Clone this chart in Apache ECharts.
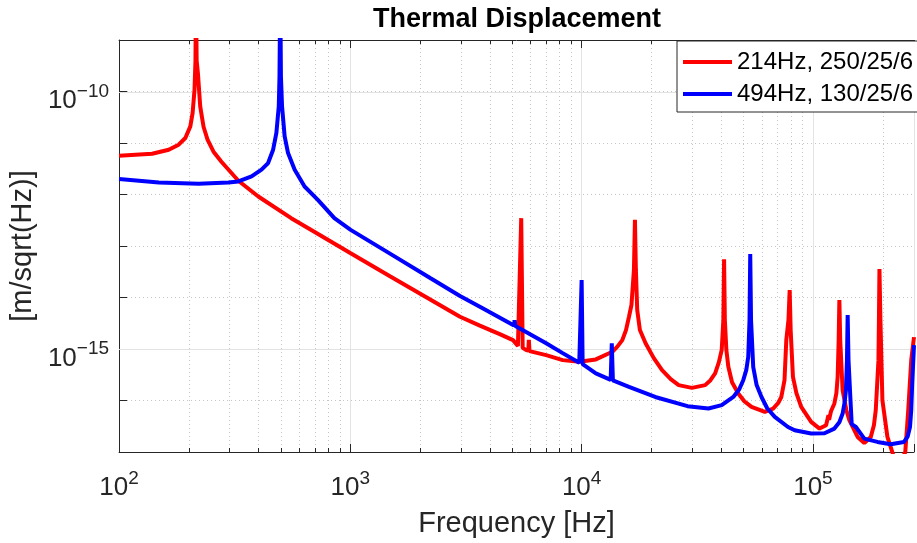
<!DOCTYPE html>
<html>
<head>
<meta charset="utf-8">
<title>Thermal Displacement</title>
<script src="https://cdn.jsdelivr.net/npm/echarts@6.0.0/dist/echarts.min.js"></script>
<style>
  html, body { margin: 0; padding: 0; background: #fff; }
  #chart { width: 917px; height: 543px; }
</style>
</head>
<body>
<div id="chart"></div>
<script>
var FONT = '"Liberation Sans", Arial, Helvetica, sans-serif';
var xMin = 100, xMax = 273500;
var yMin = 1e-17, yMax = 1e-9;

// 214Hz, 250/25/6
var redFreq = [100, 139, 164, 181, 193.5, 203.3, 208, 212, 214, 215, 216.5, 219.2, 224.4, 231.9, 241.3, 256.1,
    277.1, 328, 400, 555, 675, 823, 1003, 1490, 2214, 2979, 3631, 4425, 5049, 5303, 5400, 5480, 5560, 5764, 5880,
    5913, 5950, 7024, 8279, 9765, 11520, 13580, 14270, 14990, 15550, 16020, 16420, 16830, 17000, 17160, 17390,
    17860, 18900, 20510, 22270, 24270, 26270, 29970, 34210, 36060, 37770, 39210, 40320, 40990, 41290, 41610,
    42240, 43080, 44690, 47560, 50480, 54260, 61940, 67260, 70670, 73000, 75360, 76710, 78380, 79330, 80110,
    81960, 84830, 88990, 98240, 106800, 114000, 116000, 116700, 117400, 119700, 123800, 126300, 127900, 129200,
    130100, 131200, 134400, 139500, 143700, 156000, 166700, 177900, 183500, 186900, 192000, 192900, 193900,
    195800, 199700, 209900, 220400, 231600, 250700, 258300, 266100, 273500];
var redAmp = [5.66e-12, 6.19e-12, 7.41e-12, 9.27e-12, 1.25e-11, 2.10e-11, 3.84e-11, 1.09e-10, 4e-10, 1e-8, 4e-10,
    2.3e-10, 5.08e-11, 2.07e-11, 1.16e-11, 6.78e-12,
    4.32e-12, 1.85e-12, 9.14e-13, 3.47e-13, 2.06e-13, 1.22e-13, 7.24e-14, 2.56e-14, 9.14e-15, 4.23e-15, 2.85e-15,
    1.95e-15, 1.49e-15, 1.15e-15, 1.12e-15, 3.47e-13, 1.05e-15, 9.5e-16, 9.3e-16,
    1.5e-15, 9.1e-16, 7.6e-16, 6.08e-16, 5.64e-16, 6.28e-16, 8.83e-16, 1.11e-15, 1.49e-15, 2.33e-15, 4.23e-15,
    7.14e-15, 3.43e-14, 3.22e-13, 3.43e-14, 5.71e-15,
    2.33e-15, 1.29e-15, 6.65e-16, 3.88e-16, 2.59e-16, 1.99e-16, 1.76e-16, 1.99e-16, 2.48e-16, 3.35e-16, 5.56e-16,
    9.53e-16, 3.65e-15, 5.53e-14, 3.65e-15,
    9.53e-16, 4.51e-16, 2.27e-16, 1.37e-16, 9.68e-17, 7.5e-17, 6.0e-17, 6.98e-17, 8.85e-17, 1.17e-16, 2.48e-16,
    1.49e-15, 3.65e-15, 1.40e-14, 2.33e-15,
    2.88e-16, 1.39e-16, 7.5e-17, 3.84e-17, 2.85e-17, 3.31e-17, 3.4e-17, 5.2e-17, 4.2e-17, 6.19e-17, 8.75e-17,
    1.39e-16, 2.88e-16, 1.49e-15,
    8.93e-15, 1.49e-15, 1.58e-16, 6.47e-17, 4.14e-17, 1.96e-17, 1.50e-17, 1.96e-17, 3.31e-17, 6.47e-17, 6.08e-16,
    3.65e-15, 3.58e-14,
    3.65e-15, 1.01e-16, 1.96e-17, 9.9e-18, 5e-18, 9.9e-18, 6.47e-17, 6.1e-16, 1.7e-15];

// 494Hz, 130/25/6
var blueFreq = [100, 148.6, 220.7, 297, 328, 374, 413, 441, 463.6, 478.9, 490.4, 494, 497.6, 501, 506.7, 520,
    537.8, 574.6, 634, 723.7, 853, 1003, 1490, 2214, 2979, 3631, 5100, 5134, 5170, 7024, 8279, 9765, 9900, 10000,
    10100, 11520, 13350, 13500, 13650, 16020, 20800, 28700, 35340, 40320, 45270, 48040, 49970, 51490, 52520,
    53190, 53570, 54000, 55180, 57090, 59920, 63410, 68390, 78030, 83360, 98240, 112200, 123800, 130100, 134400,
    137100, 138900, 140300, 141300, 142500, 145100, 147100, 153400, 166700, 190100, 216800, 247600, 257000,
    262800, 266100, 268700, 273500];
var blueAmp = [2.0e-12, 1.71e-12, 1.61e-12, 1.71e-12, 1.79e-12, 2.24e-12, 3.03e-12, 4.08e-12, 7.41e-12, 1.57e-11,
    5.15e-11, 2e-10, 1e-8, 2e-10, 5.15e-11, 1.34e-11,
    6.38e-12, 3.03e-12, 1.43e-12, 7.89e-13, 3.47e-13, 2.06e-13, 7.02e-14, 2.39e-14, 1.07e-14, 6.62e-15, 2.85e-15,
    3.6e-15, 2.8e-15, 1.29e-15, 8.31e-16, 5.4e-16, 5.2e-16, 2.19e-14,
    5.1e-16, 3.35e-16, 2.52e-16, 1.29e-15, 2.45e-16, 1.84e-16, 1.17e-16, 7.75e-17, 6.98e-17, 8.11e-17, 1.17e-16,
    1.66e-16, 2.48e-16, 3.88e-16, 7.05e-16,
    3.65e-15, 7.02e-14, 3.65e-15, 4.51e-16, 1.99e-16, 1.17e-16, 7.08e-17, 4.8e-17, 3.06e-17, 2.64e-17, 2.28e-17,
    2.31e-17, 2.85e-17, 3.78e-17, 5.58e-17,
    9.27e-17, 1.58e-16, 6.08e-16, 4.57e-15, 6.08e-16, 1.17e-16, 3.47e-17, 3.06e-17, 1.82e-17, 1.57e-17, 1.41e-17,
    1.57e-17, 2.02e-17,
    3.06e-17, 6.47e-17, 2.14e-16, 1.19e-15];

var minorFreqs = [200, 300, 400, 500, 600, 700, 800, 900,
    2000, 3000, 4000, 5000, 6000, 7000, 8000, 9000,
    20000, 30000, 40000, 50000, 60000, 70000, 80000, 90000, 200000];
var majorAmps = [1e-10, 1e-15];
var yLabelExps = [-10, -15];

function zip(a, b) {
    var out = [];
    for (var i = 0; i < a.length; i++) out.push([a[i], b[i]]);
    return out;
}

function powLabel(e) {
    return '{b|10}{s|' + String(e).replace('-', '\u2212') + '}';
}

var labelRich = {
    b: { fontFamily: FONT, fontSize: 26, lineHeight: 32, verticalAlign: 'bottom', color: '#262626' },
    s: { fontFamily: FONT, fontSize: 19, lineHeight: 19, verticalAlign: 'top', color: '#262626' }
};

var chart = echarts.init(document.getElementById('chart'));

chart.setOption({
    animation: false,
    backgroundColor: '#fff',
    title: {
        text: 'Thermal Displacement',
        left: 517,
        textAlign: 'center',
        top: 6,
        padding: 0,
        textStyle: { fontFamily: FONT, fontSize: 27, fontWeight: 'bold', color: '#000' }
    },
    legend: {
        data: ['214Hz, 250/25/6', '494Hz, 130/25/6'],
        orient: 'vertical',
        left: 677,
        top: 41,
        padding: [9, 12, 6, 6],
        itemGap: 8,
        itemWidth: 49,
        itemHeight: 4,
        icon: 'rect',
        backgroundColor: '#fff',
        borderColor: '#262626',
        borderWidth: 1,
        borderRadius: 0,
        textStyle: { fontFamily: FONT, fontSize: 24, color: '#000' }
    },
    grid: { left: 117, right: 0, top: 40, bottom: 91, containLabel: false },
    xAxis: [{
        type: 'log',
        min: xMin,
        max: xMax,
        name: 'Frequency [Hz]',
        nameLocation: 'middle',
        nameGap: 57,
        nameTextStyle: { fontFamily: FONT, fontSize: 29, color: '#262626' },
        axisLine: { lineStyle: { color: '#262626', width: 1 } },
        axisTick: { inside: true, length: 8, lineStyle: { color: '#262626' } },
        axisLabel: {
            margin: 17,
            showMinLabel: true,
            formatter: function (v) {
                var l = Math.log10(v), e = Math.round(l);
                if (Math.abs(l - e) > 0.01) return '';
                return powLabel(e);
            },
            rich: labelRich
        },
        splitLine: { show: true, lineStyle: { color: '#e3e3e3', width: 1 } }
    }, {
        type: 'log',
        position: 'top',
        min: xMin,
        max: xMax,
        axisLine: { lineStyle: { color: '#262626', width: 1 } },
        axisTick: { inside: true, length: 8, lineStyle: { color: '#262626' } },
        axisLabel: { show: false },
        splitLine: { show: false }
    }],
    yAxis: {
        type: 'log',
        min: yMin,
        max: yMax,
        name: '[m/sqrt(Hz)]',
        nameLocation: 'middle',
        nameGap: 70,
        nameTextStyle: { fontFamily: FONT, fontSize: 29, color: '#262626' },
        axisLine: { lineStyle: { color: '#262626', width: 1 } },
        axisTick: { inside: true, length: 8, lineStyle: { color: '#262626' } },
        axisLabel: {
            margin: 10,
            padding: [13, 0, 0, 0],
            formatter: function (v) {
                var e = Math.round(Math.log10(v));
                return yLabelExps.indexOf(e) >= 0 ? powLabel(e) : '';
            },
            rich: labelRich
        },
        splitLine: { show: true, lineStyle: { color: '#c4c4c4', width: 1, type: [1, 3] } }
    },
    series: [{
        // dotted minor grid and minor ticks at 2..9 x decade
        type: 'custom',
        silent: true,
        z: 1,
        data: minorFreqs.map(function (f) { return [f, yMin]; }),
        renderItem: function (params, api) {
            var f = api.value(0);
            var top = api.coord([f, yMax]);
            var bot = api.coord([f, yMin]);
            var x = Math.round(top[0]) + 0.5;
            return {
                type: 'group',
                children: [{
                    type: 'line',
                    shape: { x1: x, y1: top[1], x2: x, y2: bot[1] },
                    style: { stroke: '#c4c4c4', lineWidth: 1, lineDash: [1, 3] }
                }, {
                    type: 'line',
                    shape: { x1: x, y1: bot[1], x2: x, y2: bot[1] - 4 },
                    style: { stroke: '#262626', lineWidth: 1 }
                }, {
                    type: 'line',
                    shape: { x1: x, y1: top[1], x2: x, y2: top[1] + 4 },
                    style: { stroke: '#262626', lineWidth: 1 }
                }]
            };
        }
    }, {
        // solid major grid at labelled decades
        type: 'custom',
        silent: true,
        z: 1,
        data: majorAmps.map(function (v) { return [xMin, v]; }),
        renderItem: function (params, api) {
            var v = api.value(1);
            var a = api.coord([xMin, v]);
            var b = api.coord([xMax, v]);
            var y = Math.round(a[1]) + 0.5;
            return {
                type: 'line',
                shape: { x1: a[0], y1: y, x2: b[0], y2: y },
                style: { stroke: '#e3e3e3', lineWidth: 1 }
            };
        }
    }, {
        name: '214Hz, 250/25/6',
        type: 'line',
        z: 3,
        showSymbol: false,
        clip: true,
        color: '#ff0000',
        lineStyle: { color: '#ff0000', width: 4 },
        data: zip(redFreq, redAmp)
    }, {
        name: '494Hz, 130/25/6',
        type: 'line',
        z: 3,
        showSymbol: false,
        clip: true,
        color: '#0000ff',
        lineStyle: { color: '#0000ff', width: 4 },
        data: zip(blueFreq, blueAmp)
    }]
});
</script>
</body>
</html>
